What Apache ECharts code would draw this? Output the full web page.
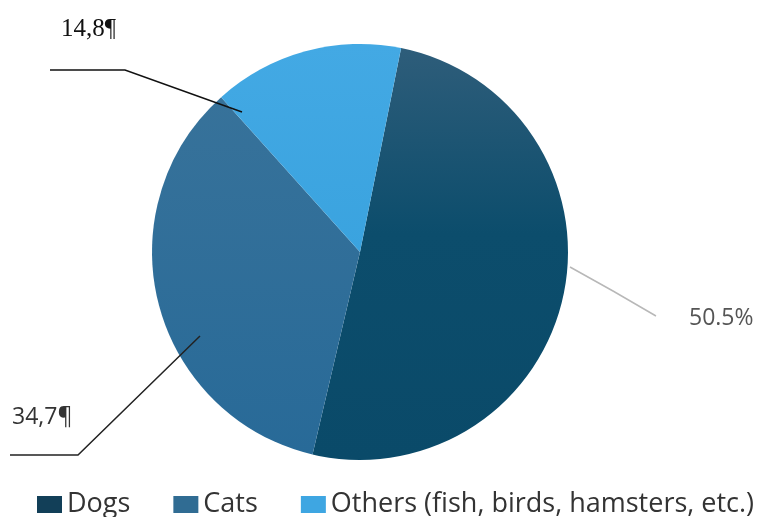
<!DOCTYPE html>
<html>
<head>
<meta charset="utf-8">
<script src="https://cdn.jsdelivr.net/npm/echarts@6/dist/echarts.min.js"></script>
<style>html,body{margin:0;padding:0;background:#fff}#c{width:757px;height:517px}</style>
</head>
<body>
<div id="c"></div>
<script>
const categories = ['Dogs', 'Cats', 'Others (fish, birds, hamsters, etc.)'];
const values = [50.5, 34.7, 14.8];
const labelTexts = ['50.5%', '34,7¶', '14,8¶'];

const fills = [
  {type:'linear',x:0,y:0,x2:0,y2:1,colorStops:[{offset:0,color:'#2e5d7a'},{offset:0.45,color:'#0c4d6c'},{offset:1,color:'#0a4a69'}]},
  {type:'linear',x:0,y:0,x2:0,y2:1,colorStops:[{offset:0,color:'#37729a'},{offset:1,color:'#286a98'}]},
  {type:'linear',x:0,y:0,x2:0,y2:1,colorStops:[{offset:0,color:'#43a9e4'},{offset:1,color:'#3aa3df'}]}
];
const legendColors = ['#123f58', '#306c93', '#3ea6e2'];
const labelStyles = [
  {fontFamily:'Open Sans', fontSize:23, color:'#555555'},
  {fontFamily:'Open Sans', fontSize:23, color:'#333333'},
  {fontFamily:'Liberation Serif', fontSize:25, color:'#111111'}
];
const lineStyles = [
  {color:'#b8b8b8', width:1.5},
  {color:'#222222', width:1.5},
  {color:'#111111', width:1.5}
];
// annotation placement (label anchor and leader line)
const labelPlace = [
  {x:689, y:318, line:[[570,267],[613,291],[656,316]]},
  {x:12, y:417, line:[[200,336],[78,455],[10,455]]},
  {x:61, y:29, line:[[242,112],[125,70],[50,70]]}
];

const pieBase = {
  type:'pie',
  center:[360,252],
  radius:208,
  startAngle:78.6,
  clockwise:true,
  silent:true
};

const chart = echarts.init(document.getElementById('c'), null, {renderer:'canvas'});
chart.setOption({
  animation:false,
  legend:{
    top:491, left:37, width:740, padding:0,
    icon:'rect', itemWidth:25, itemHeight:17, itemGap:43,
    textStyle:{fontFamily:'Open Sans', fontSize:27, color:'#333'},
    data:categories.map((c,i)=>({name:c, itemStyle:{color:legendColors[i]}}))
  },
  series:[
    Object.assign({}, pieBase, {
      name:'fill',
      z:1,
      data:categories.map((c,i)=>({name:c, value:values[i], itemStyle:{color:fills[i]}})),
      label:{show:false},
      labelLine:{show:false}
    }),
    Object.assign({}, pieBase, {
      name:'labels',
      z:5,
      data:categories.map((c,i)=>({
        name:c, value:values[i],
        itemStyle:{color:'rgba(0,0,0,0)'},
        label:Object.assign({show:true, formatter:labelTexts[i]}, labelStyles[i]),
        labelLine:{show:true, smooth:false, lineStyle:lineStyles[i]}
      })),
      label:{position:'outside'},
      labelLine:{length:20,length2:20},
      labelLayout:function(p){
        const L = labelPlace[p.dataIndex];
        return {x:L.x, y:L.y, align:'left', verticalAlign:'middle', labelLinePoints:L.line};
      }
    })
  ]
});
</script>
</body>
</html>
